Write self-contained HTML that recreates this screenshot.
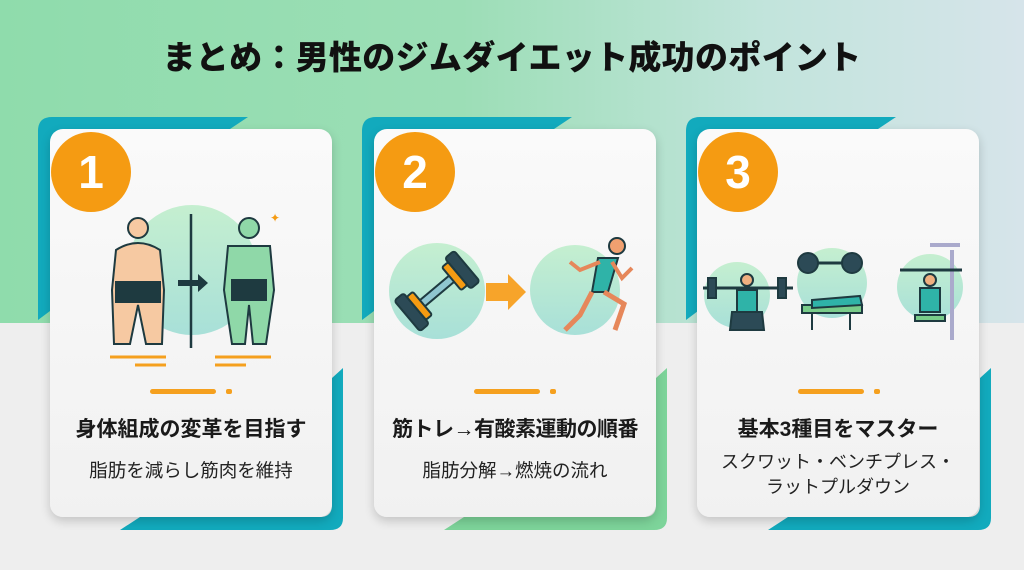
<!DOCTYPE html>
<html><head><meta charset="utf-8"><style>
body{margin:0;width:1024px;height:570px;overflow:hidden;font-family:"Liberation Sans","Noto Sans CJK JP",sans-serif;}
.bg{position:absolute;left:0;top:0;width:1024px;height:570px;background:#eeeeee}
.top{position:absolute;left:0;top:0;width:1024px;height:323px;background:linear-gradient(90deg,#8fdcac 0%,#9cdeb6 45%,#c2e4dc 75%,#d6e4ea 100%)}
h1{position:absolute;left:0;top:36px;width:1024px;text-align:center;margin:0;font-size:33px;line-height:44px;font-weight:900;color:#111;letter-spacing:0.3px}
.card{position:absolute;top:129px;width:282px;height:388px;background:linear-gradient(180deg,#fafafa,#f1f1f1);border-radius:13px;box-shadow:0 4px 10px rgba(0,0,0,.18)}
.badge{position:absolute;width:80px;height:80px;border-radius:50%;background:#f59b12;color:#fff;font-size:46px;font-weight:bold;text-align:center;line-height:80px;top:132px}
.line{position:absolute;top:389px;height:5px;width:66px;background:#f5a01e;border-radius:3px}
.dot{position:absolute;top:389px;height:5px;width:6px;background:#f5a01e;border-radius:2px}
.h{position:absolute;top:415px;width:282px;text-align:center;font-size:21px;line-height:30px;font-weight:bold;color:#1a1a1a}
.s{position:absolute;top:456px;width:282px;text-align:center;font-size:18.5px;color:#222;line-height:30px}
svg{position:absolute;left:0;top:0}
</style></head><body>
<div class="bg"></div><div class="top"></div>
<svg width="1024" height="570">
<g fill="#12aabd">
<path d="M52 117 H248 L230 129 H82 Q62 129 62 150 V302 L38 320 V131 Q38 117 52 117Z"/>
<path d="M343 368 V518 Q343 530 330 530 H120 L140 517 H320 Q332 517 332 505 V378Z"/>
<path d="M376 117 H572 L554 129 H406 Q386 129 386 150 V302 L362 320 V131 Q362 117 376 117Z"/>
<path d="M700 117 H896 L878 129 H730 Q710 129 710 150 V302 L686 320 V131 Q686 117 700 117Z"/>
<path d="M991 368 V518 Q991 530 978 530 H768 L788 517 H968 Q980 517 980 505 V378Z"/>
</g>
<path fill="#7dd49a" d="M667 368 V518 Q667 530 654 530 H444 L464 517 H644 Q656 517 656 505 V378Z"/>
</svg>
<h1>まとめ：男性のジムダイエット成功のポイント</h1>
<div class="card" style="left:50px"></div>
<div class="card" style="left:374px"></div>
<div class="card" style="left:697px"></div>
<svg width="1024" height="570">
<defs><linearGradient id="cg" x1="0" y1="0" x2="0" y2="1"><stop offset="0" stop-color="#c5efd0"/><stop offset="1" stop-color="#a8e0d8"/></linearGradient></defs>
<circle cx="192" cy="270" r="65" fill="url(#cg)"/>
<line x1="191" y1="214" x2="191" y2="348" stroke="#1e3a40" stroke-width="2.5"/>
<g stroke="#1e3a40" stroke-width="2">
<circle cx="138" cy="228" r="10" fill="#f6c9a2"/>
<path d="M116 250 Q138 236 160 250 L164 290 L162 344 H146 L138 305 L130 344 H114 L112 290Z" fill="#f6c9a2"/>
<rect x="116" y="282" width="44" height="20" fill="#1e3a40"/>
<circle cx="249" cy="228" r="10" fill="#8fd8a8"/>
<path d="M228 246 L270 246 L274 290 L266 344 H253 L249 305 L245 344 H232 L224 290Z" fill="#8fd8a8"/>
<rect x="232" y="280" width="34" height="20" fill="#1e3a40"/>
</g>
<path d="M178 280 H198 V274 L208 283 L198 292 V286 H178Z" fill="#1e3a40"/>
<text x="270" y="222" fill="#f59b12" font-size="12">✦</text>
<g stroke="#f5a01e" stroke-width="3"><line x1="110" y1="357" x2="166" y2="357"/><line x1="215" y1="357" x2="271" y2="357"/><line x1="135" y1="365" x2="166" y2="365"/><line x1="215" y1="365" x2="246" y2="365"/></g>
<circle cx="437" cy="291" r="48" fill="url(#cg)"/>
<circle cx="575" cy="290" r="45" fill="url(#cg)"/>
<g transform="rotate(-40 437 291)" stroke="#1e3a40" stroke-width="2">
<rect x="408" y="287" width="58" height="8" fill="#8fc6d0"/>
<rect x="398" y="271" width="12" height="40" rx="3" fill="#2c4a56"/>
<rect x="410" y="276" width="8" height="30" rx="2" fill="#f59b12"/>
<rect x="464" y="271" width="12" height="40" rx="3" fill="#2c4a56"/>
<rect x="456" y="276" width="8" height="30" rx="2" fill="#f59b12"/>
</g>
<path d="M486 283 H508 V274 L526 292 L508 310 V301 H486Z" fill="#f7a42a"/>
<g stroke="#1e3a40" stroke-width="2" fill="#2fb3a8">
<circle cx="617" cy="246" r="8" fill="#f0a070"/>
<path d="M598 258 L618 258 L608 292 L592 292Z"/>
<path d="M592 292 L580 315 L565 330 M604 292 L624 304 L615 330" fill="none" stroke="#e6875a" stroke-width="5"/>
<path d="M600 262 L580 270 L570 262 M612 262 L622 278 L632 268" fill="none" stroke="#e6875a" stroke-width="4"/>
</g>
<circle cx="737" cy="295" r="33" fill="url(#cg)"/>
<circle cx="832" cy="283" r="35" fill="url(#cg)"/>
<circle cx="930" cy="287" r="33" fill="url(#cg)"/>
<g stroke="#1e3a40" stroke-width="2">
<line x1="703" y1="288" x2="793" y2="288" stroke-width="3"/>
<rect x="708" y="278" width="8" height="20" fill="#2c4a56"/><rect x="778" y="278" width="8" height="20" fill="#2c4a56"/>
<circle cx="747" cy="280" r="6" fill="#f0b080"/>
<path d="M737 290 H757 V312 H737Z" fill="#2fb3a8"/>
<path d="M732 312 H762 L764 330 H730Z" fill="#2c4a56"/>
<line x1="800" y1="263" x2="862" y2="263" stroke-width="3"/>
<circle cx="808" cy="263" r="10" fill="#2c4a56"/><circle cx="852" cy="263" r="10" fill="#2c4a56"/>
<rect x="802" y="305" width="60" height="8" fill="#79cc8a"/>
<path d="M812 300 L860 296 L862 305 L812 308Z" fill="#2fb3a8"/>
<line x1="812" y1="313" x2="812" y2="330"/><line x1="850" y1="313" x2="850" y2="330"/>
<path d="M952 250 V340 M930 245 H960" fill="none" stroke="#aac" stroke-width="4"/>
<line x1="900" y1="270" x2="962" y2="270" stroke-width="3"/>
<circle cx="930" cy="280" r="6" fill="#f0b080"/>
<path d="M920 288 H940 V312 H920Z" fill="#2fb3a8"/>
<rect x="915" y="315" width="30" height="6" fill="#79cc8a"/>
</g>
</svg>
<div class="badge" style="left:51px">1</div>
<div class="badge" style="left:375px">2</div>
<div class="badge" style="left:698px">3</div>
<div class="line" style="left:150px"></div><div class="dot" style="left:226px"></div>
<div class="line" style="left:474px"></div><div class="dot" style="left:550px"></div>
<div class="line" style="left:798px"></div><div class="dot" style="left:874px"></div>
<div class="h" style="left:50px">身体組成の変革を目指す</div>
<div class="h" style="left:374px;letter-spacing:-0.5px">筋トレ→有酸素運動の順番</div>
<div class="h" style="left:697px">基本3種目をマスター</div>
<div class="s" style="left:50px">脂肪を減らし筋肉を維持</div>
<div class="s" style="left:374px">脂肪分解→燃焼の流れ</div>
<div class="s" style="left:697px;top:450px;line-height:25px;font-size:18px">スクワット・ベンチプレス・<br>ラットプルダウン</div>
</body></html>
